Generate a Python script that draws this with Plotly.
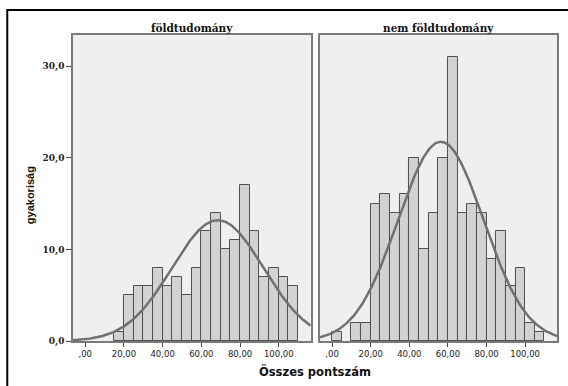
import numpy as np
import plotly.graph_objects as go

# ---- data ----
bin_lo = [0, 5, 10, 15, 20, 25, 30, 35, 40, 45, 50, 55, 60, 65, 70, 75, 80, 85, 90, 95, 100, 105]
counts_fold = [0, 0, 0, 1, 5, 6, 6, 8, 6, 7, 5, 8, 12, 14, 10, 11, 17, 12, 7, 8, 7, 6]
counts_nem = [1, 0, 2, 2, 15, 16, 14, 16, 20, 10, 14, 20, 31, 14, 15, 14, 9, 12, 6, 8, 2, 1]
bin_width = 5
mean_fold, sd_fold = 68.5, 23.6
mean_nem, sd_nem = 56.3, 22.2
panel_titles = ["földtudomány", "nem földtudomány"]
x_tickvals = [0, 20, 40, 60, 80, 100]
x_ticktext = [",00", "20,00", "40,00", "60,00", "80,00", "100,00"]
y_tickvals = [0, 10, 20, 30]
y_ticktext = ["0,0", "10,0", "20,0", "30,0"]
x_range = [-6.3, 116.5]
y_range = [0, 33.4]

W, H = 568, 386
ML, MR, MT, MB = 73, 9, 35, 45
PW = W - ML - MR
PH = H - MT - MB


def px_x(p):
    return (p - ML) / PW


def px_y(p):
    return (H - MB - p) / PH


fig = go.Figure()


def add_panel(counts, mean, sd, xa, ya):
    centers = [b + bin_width / 2 for b in bin_lo]
    vals = [c if c > 0 else None for c in counts]
    fig.add_trace(go.Bar(
        x=centers, y=vals, width=bin_width, xaxis=xa, yaxis=ya,
        marker=dict(color="#D2D2D2", line=dict(color="#505050", width=1)),
        showlegend=False, hoverinfo="x+y"))
    n = sum(counts)
    xs = np.linspace(x_range[0], x_range[1], 300)
    ys = n * bin_width * np.exp(-0.5 * ((xs - mean) / sd) ** 2) / (sd * np.sqrt(2 * np.pi))
    fig.add_trace(go.Scatter(
        x=xs, y=ys, mode="lines", xaxis=xa, yaxis=ya,
        line=dict(color="#707070", width=2.5), showlegend=False, hoverinfo="skip"))


add_panel(counts_fold, mean_fold, sd_fold, "x", "y")
add_panel(counts_nem, mean_nem, sd_nem, "x2", "y2")

d1_end = px_x(311.7)
d2_start = px_x(321)

xcommon = dict(range=x_range, tickvals=x_tickvals, ticktext=x_ticktext,
               ticks="outside", ticklen=4, tickcolor="#444", tickwidth=1,
               showline=True, mirror=True, linecolor="#7a7a7a", linewidth=1.5,
               showgrid=False, zeroline=False,
               tickfont=dict(family="DejaVu Sans", size=8.5, color="#222"))
ycommon = dict(range=y_range, showline=True, mirror=True, linecolor="#7a7a7a",
               linewidth=1.5, showgrid=False, zeroline=False)

fig.update_layout(
    width=W, height=H,
    margin=dict(l=ML, r=MR, t=MT, b=MB, pad=0),
    paper_bgcolor="white", plot_bgcolor="#EFEFEF",
    bargap=0,
    xaxis=dict(domain=[0, d1_end], anchor="y", **xcommon),
    xaxis2=dict(domain=[d2_start, 1], anchor="y2", **xcommon),
    yaxis=dict(domain=[0, 1], anchor="x", tickvals=y_tickvals, ticktext=y_ticktext,
               ticks="outside", ticklen=5, tickcolor="#444",
               tickfont=dict(family="DejaVu Serif", size=9, color="#222", weight="bold"),
               **ycommon),
    yaxis2=dict(domain=[0, 1], anchor="x2", showticklabels=False, ticks="",
                **ycommon),
)

fig.add_annotation(text=panel_titles[0], xref="paper", yref="paper",
                   x=(0 + d1_end) / 2, y=px_y(27.5), showarrow=False,
                   font=dict(family="DejaVu Serif", size=10.5, color="#111", weight="bold"),
                   xanchor="center", yanchor="middle")
fig.add_annotation(text=panel_titles[1], xref="paper", yref="paper",
                   x=(d2_start + 1) / 2, y=px_y(27.5), showarrow=False,
                   font=dict(family="DejaVu Serif", size=10.5, color="#111", weight="bold"),
                   xanchor="center", yanchor="middle")
fig.add_annotation(text="Összes pontszám", xref="paper", yref="paper",
                   x=px_x(316.5), y=px_y(371), showarrow=False,
                   font=dict(family="DejaVu Sans", size=11.5, color="#111", weight="bold"),
                   xanchor="center", yanchor="middle")
fig.add_annotation(text="gyakoriság", xref="paper", yref="paper",
                   x=px_x(30), y=px_y(195), showarrow=False, textangle=-90,
                   font=dict(family="Liberation Sans", size=11, color="#111", weight="bold"),
                   xanchor="center", yanchor="middle")

fig.add_shape(type="rect", xref="paper", yref="paper",
              x0=px_x(7), x1=px_x(575), y0=px_y(395), y1=px_y(10),
              line=dict(color="black", width=2), fillcolor="rgba(0,0,0,0)", layer="above")

fig.write_html("out.html")
